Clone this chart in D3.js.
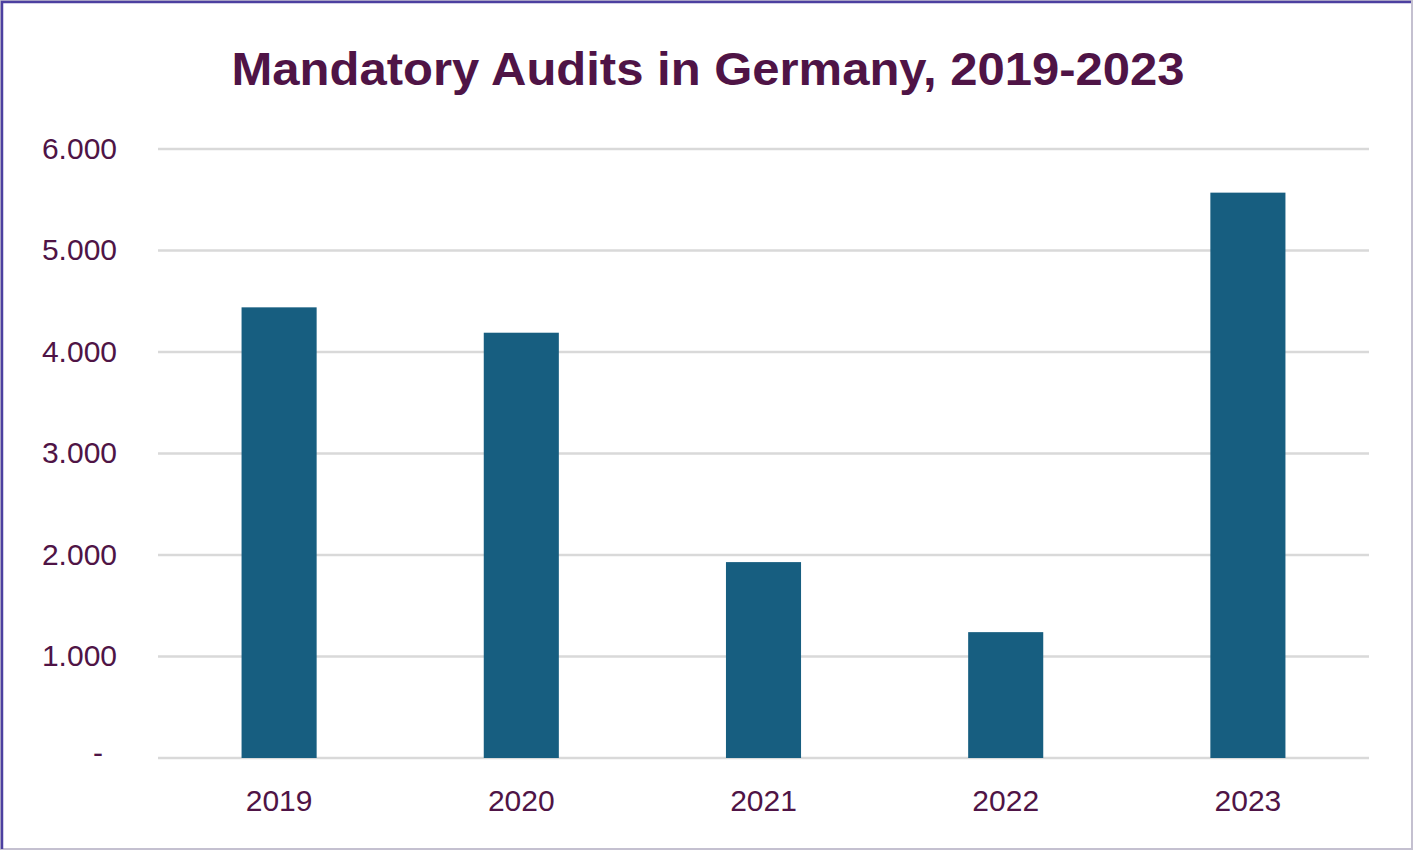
<!DOCTYPE html>
<html lang="en">
<head>
    <meta charset="UTF-8">
    <title>Mandatory Audits in Germany</title>
    <script src="https://d3js.org/d3.v7.min.js"></script>
    <style>
        html, body { margin: 0; padding: 0; background: #fff; }
        body { width: 1414px; height: 851px; overflow: hidden; }
        svg { display: block; font-family: "Liberation Sans", Arial, sans-serif; }
        .tick text { fill: #4f1446; }
    </style>
</head>
<body>
    <div id="chart"></div>
    <script>
        const years = ["2019", "2020", "2021", "2022", "2023"];
        const audits = [4440, 4190, 1930, 1240, 5570];
        const yTicks = [0, 1000, 2000, 3000, 4000, 5000, 6000];

        const W = 1414, H = 851;
        const margin = { top: 149, right: 45, bottom: 93, left: 158 };
        const width = W - margin.left - margin.right;
        const height = H - margin.top - margin.bottom;

        const svg = d3.select("#chart").append("svg")
            .attr("width", W)
            .attr("height", H);

        // frame
        svg.append("rect")
            .attr("x", 1).attr("y", 1)
            .attr("width", W - 3).attr("height", H - 3)
            .attr("fill", "#fff")
            .attr("stroke", "#c4c0d0").attr("stroke-width", 2);
        svg.append("path")
            .attr("d", `M2,${H - 2} V2 H${W - 3}`)
            .attr("fill", "none")
            .attr("stroke", "#4c40a0").attr("stroke-width", 2.5);

        svg.append("text")
            .attr("x", 708)
            .attr("y", 85)
            .attr("text-anchor", "middle")
            .attr("font-weight", "bold")
            .attr("font-size", 46)
            .attr("fill", "#4f1446")
            .attr("textLength", 953)
            .attr("lengthAdjust", "spacingAndGlyphs")
            .text("Mandatory Audits in Germany, 2019-2023");

        const g = svg.append("g")
            .attr("transform", "translate(" + margin.left + "," + margin.top + ")");

        const x = d3.scaleBand()
            .domain(years)
            .range([0, width])
            .paddingInner(0.69)
            .paddingOuter(0.345);

        const y = d3.scaleLinear()
            .domain([0, 6000])
            .range([height, 0]);

        // gridlines
        g.append("g")
            .selectAll("line")
            .data(yTicks)
            .enter().append("line")
            .attr("x1", 0).attr("x2", width)
            .attr("y1", d => y(d)).attr("y2", d => y(d))
            .attr("stroke", "#d9d9d9")
            .attr("stroke-width", 2.5);

        // y axis labels
        const yAxis = d3.axisLeft(y)
            .tickValues(yTicks)
            .tickSize(0)
            .tickPadding(41)
            .tickFormat(d => d === 0 ? "-" : d3.format(",")(d).replace(/,/g, "."));
        const ya = g.append("g").call(yAxis);
        ya.select(".domain").remove();
        ya.selectAll("text")
            .attr("font-size", 30)
            .attr("font-family", "Liberation Sans, Arial, sans-serif")
            .attr("dy", "0.3em");
        ya.selectAll(".tick").filter(d => d === 0).select("text")
            .attr("x", -55).attr("dy", "0.15em");

        // bars
        g.selectAll(".bar")
            .data(audits)
            .enter().append("rect")
            .attr("class", "bar")
            .attr("x", (d, i) => x(years[i]))
            .attr("width", x.bandwidth())
            .attr("y", d => y(d))
            .attr("height", d => y(0) - y(d))
            .attr("fill", "#175e80");

        // x axis labels
        const xAxis = d3.axisBottom(x).tickSize(0).tickPadding(32);
        const xa = g.append("g")
            .attr("transform", "translate(0," + height + ")")
            .call(xAxis);
        xa.select(".domain").remove();
        xa.selectAll("text")
            .attr("font-size", 30)
            .attr("font-family", "Liberation Sans, Arial, sans-serif");
    </script>
</body>
</html>
